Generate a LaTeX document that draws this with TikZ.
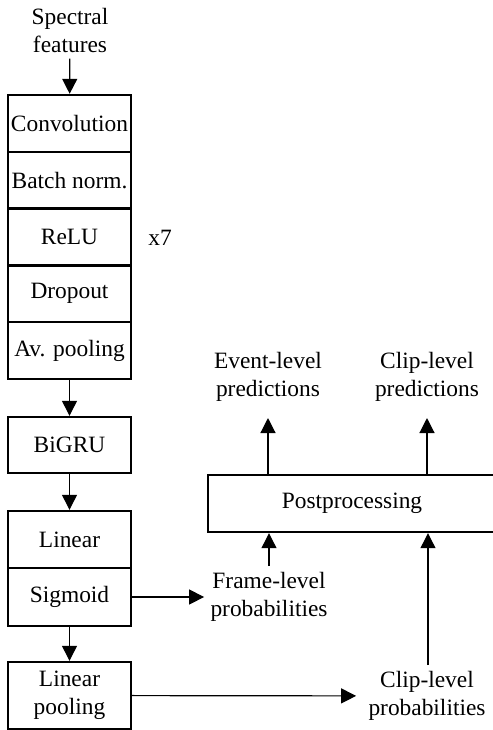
\documentclass[tikz,border=0pt]{standalone}
\usepackage{fontspec}
\setmainfont{Liberation Serif}
\usetikzlibrary{arrows.meta}

\tikzset{
    layer/.style={draw, line width=1.2pt, minimum width=61.5pt, inner sep=0pt,
        align=center},
    lbl/.style={align=center, inner sep=3pt},
    arr/.style={-{Triangle[width=7.5pt,length=7.5pt]}, line width=0.6pt}
}

\begin{document}
\begin{tikzpicture}[x=0.5pt, y=-0.5pt,
    font=\fontsize{11.7}{14}\selectfont]
    \useasboundingbox (0,0) rectangle (493,730);
    % input
    \node[lbl] (spec) at (70,30) {Spectral\\features};
    % repeated convolutional block
    \node[layer, minimum height=28.4pt] (conv) at (69.5,123.4) {Convolution};
    \node[layer, minimum height=28.4pt] (bn)   at (69.5,180.2) {Batch norm.};
    \node[layer, minimum height=28.4pt] (relu) at (69.5,237.0) {ReLU};
    \node[layer, minimum height=28.4pt] (drop) at (69.5,293.8) {Dropout};
    \node[layer, minimum height=28.4pt] (pool) at (69.5,350.6) {Av. pooling};
    \node (rep) at (160,238) {x7};
    % recurrent and output layers
    \node[layer, minimum height=28pt] (gru) at (69.5,445) {BiGRU};
    \node[layer, minimum height=28.5pt] (lin) at (69.5,539.5) {Linear};
    \node[layer, minimum height=29pt]   (sig) at (69.5,597) {Sigmoid};
    \node[layer, minimum height=33.5pt] (lpool) at (69.5,695.5) {Linear\\pooling};
    % probabilities
    \node[lbl] (frame) at (269,597) {Frame-level\\probabilities};
    \node[lbl] (clipp) at (427,696) {Clip-level\\probabilities};
    % postprocessing and predictions
    \node[layer, minimum width=144pt, minimum height=28.5pt] (post) at (352,503.5) {Postprocessing};
    \node[lbl] (event) at (268,377) {Event-level\\predictions};
    \node[lbl] (clippr) at (427,377) {Clip-level\\predictions};

    \draw[arr] (spec) -- (conv);
    \draw[arr] (pool) -- (gru);
    \draw[arr] (gru) -- (lin);
    \draw[arr] (sig) -- (lpool);
    \draw[arr] (sig) -- (frame);
    \draw[arr, shorten >=3pt] (lpool) -- (clipp);
    \draw[arr] (frame) -- (frame |- post.south);
    \draw[arr] (clipp.north -| 428,0) -- (post.south -| 428,0);
    \draw[arr, shorten >=5pt] (post.north -| event) -- (event);
    \draw[arr, shorten >=5pt] (post.north -| clippr) -- (clippr);
\end{tikzpicture}
\end{document}
